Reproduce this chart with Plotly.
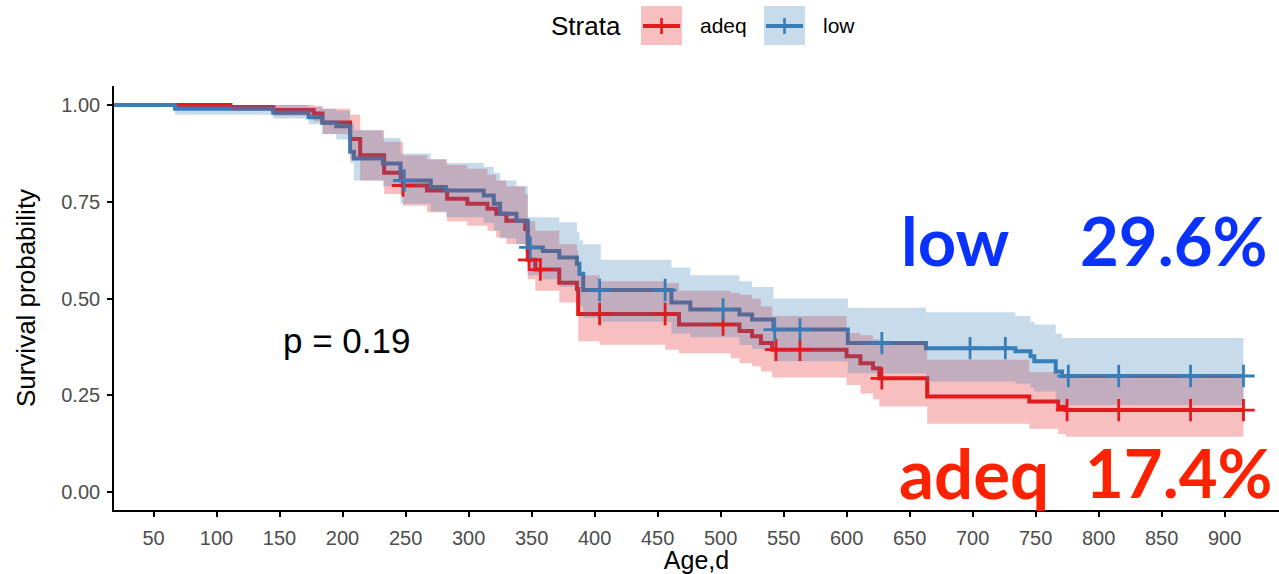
import plotly.graph_objects as go

# ---------------- data ----------------
low_time  = [0, 67, 145, 173, 184, 195, 206, 209, 232, 246, 270, 282, 312, 320, 325, 338, 347, 359, 372, 386, 388, 391, 405, 461, 476, 515, 525, 542, 601, 663, 734, 746, 749, 766, 771, 915]
low_surv  = [1.000, 0.990, 0.980, 0.968, 0.954, 0.945, 0.879, 0.862, 0.849, 0.805, 0.788, 0.779, 0.766, 0.745, 0.719, 0.701, 0.632, 0.623, 0.606, 0.590, 0.564, 0.522, 0.522, 0.490, 0.472, 0.459, 0.446, 0.420, 0.385, 0.372, 0.364, 0.351, 0.338, 0.312, 0.300, 0.300]
low_upper = [1.000, 1.000, 1.000, 0.995, 0.990, 0.985, 0.950, 0.935, 0.915, 0.875, 0.860, 0.850, 0.840, 0.825, 0.805, 0.790, 0.710, 0.710, 0.697, 0.671, 0.650, 0.640, 0.600, 0.580, 0.560, 0.545, 0.530, 0.500, 0.476, 0.465, 0.455, 0.440, 0.433, 0.409, 0.398, 0.398]
low_lower = [1.000, 0.975, 0.965, 0.950, 0.925, 0.911, 0.850, 0.805, 0.790, 0.745, 0.725, 0.710, 0.695, 0.675, 0.655, 0.640, 0.560, 0.550, 0.530, 0.510, 0.480, 0.450, 0.440, 0.410, 0.400, 0.380, 0.370, 0.338, 0.307, 0.286, 0.280, 0.270, 0.260, 0.235, 0.225, 0.225]
low_censor = [249, 349, 404, 456, 502, 543, 563, 628, 698, 726, 776, 816, 873, 915]

adeq_time  = [0, 111, 145, 177, 184, 206, 214, 233, 248, 267, 283, 299, 315, 322, 330, 345, 347, 353, 372, 386, 387, 404, 456, 467, 508, 515, 525, 532, 541, 600, 611, 621, 626, 664, 745, 768, 774, 915]
adeq_surv  = [1.000, 0.995, 0.987, 0.978, 0.955, 0.912, 0.870, 0.825, 0.792, 0.779, 0.758, 0.745, 0.732, 0.719, 0.701, 0.680, 0.600, 0.575, 0.541, 0.525, 0.460, 0.460, 0.460, 0.433, 0.433, 0.416, 0.403, 0.385, 0.368, 0.351, 0.333, 0.320, 0.294, 0.247, 0.234, 0.220, 0.212, 0.212]
adeq_upper = [1.000, 1.000, 1.000, 0.998, 0.990, 0.975, 0.935, 0.905, 0.870, 0.860, 0.845, 0.835, 0.820, 0.805, 0.790, 0.770, 0.700, 0.675, 0.640, 0.625, 0.560, 0.545, 0.540, 0.520, 0.515, 0.510, 0.500, 0.480, 0.455, 0.411, 0.405, 0.395, 0.390, 0.342, 0.310, 0.300, 0.300, 0.300]
adeq_lower = [1.000, 0.985, 0.972, 0.958, 0.925, 0.860, 0.805, 0.770, 0.740, 0.723, 0.700, 0.688, 0.675, 0.658, 0.641, 0.620, 0.550, 0.520, 0.490, 0.463, 0.390, 0.381, 0.368, 0.359, 0.346, 0.333, 0.325, 0.312, 0.296, 0.277, 0.255, 0.240, 0.221, 0.177, 0.164, 0.150, 0.143, 0.143]
adeq_censor = [248, 348, 357, 404, 456, 502, 544, 563, 628, 775, 816, 873, 915]

x_ticks = [50, 100, 150, 200, 250, 300, 350, 400, 450, 500, 550, 600, 650, 700, 750, 800, 850, 900]
y_ticks = [0.0, 0.25, 0.5, 0.75, 1.0]
y_ticktext = ["0.00", "0.25", "0.50", "0.75", "1.00"]

# ---------------- styles ----------------
RED = "#E41A1C"
BLUE = "#377EB8"
RED_FILL = "rgba(228,26,28,0.28)"
BLUE_FILL = "rgba(55,126,184,0.28)"
FONT = "Liberation Sans, Arial, sans-serif"

W, H = 1279, 574
L, R, T, B = 114, 0, 86, 64
PW, PH = W - L - R, H - T - B


def xp(px):
    return (px - L) / PW


def yp(py):
    return (H - B - py) / PH


def step_value(times, vals, t):
    v = vals[0]
    for ti, vi in zip(times, vals):
        if ti <= t:
            v = vi
    return v


groups = [
    ("adeq", adeq_time, adeq_surv, adeq_upper, adeq_lower, adeq_censor, RED, RED_FILL),
    ("low", low_time, low_surv, low_upper, low_lower, low_censor, BLUE, BLUE_FILL),
]

fig = go.Figure()

# curves (drawn first, ribbons go over them as in ggsurvplot)
for name, t, s, u, lo, c, col, fcol in groups:
    fig.add_trace(go.Scatter(x=t, y=s, mode="lines", line=dict(color=col, width=4, shape="hv"),
                             showlegend=False, hoverinfo="skip"))

# confidence ribbons
for name, t, s, u, lo, c, col, fcol in groups:
    fig.add_trace(go.Scatter(x=t, y=u, mode="lines", line=dict(width=0, shape="hv"),
                             showlegend=False, hoverinfo="skip"))
    fig.add_trace(go.Scatter(x=t, y=lo, mode="lines", line=dict(width=0, shape="hv"),
                             fill="tonexty", fillcolor=fcol, showlegend=False, hoverinfo="skip"))

# censor marks
for name, t, s, u, lo, c, col, fcol in groups:
    cy = [step_value(t, s, ci) for ci in c]
    fig.add_trace(go.Scatter(x=c, y=cy, mode="markers",
                             marker=dict(symbol="cross-thin", size=16, line=dict(color=col, width=2.8)),
                             showlegend=False, hoverinfo="skip"))

# ---------------- layout ----------------
fig.update_layout(
    width=W, height=H,
    margin=dict(l=L, r=R, t=T, b=B, pad=0),
    paper_bgcolor="white", plot_bgcolor="white",
    font=dict(family=FONT, color="black"),
    xaxis=dict(range=[18.6, 943.2], tickvals=x_ticks, showgrid=False, zeroline=False,
               showline=True, linecolor="black", linewidth=1.6, ticks="outside", ticklen=5,
               tickwidth=1.6, tickcolor="black", tickfont=dict(size=20, color="#4D4D4D"),
               ticklabelstandoff=4,
               title=dict(text="Age,d", font=dict(size=25, color="black"), standoff=1)),
    yaxis=dict(range=[-0.046, 1.049], tickvals=y_ticks, ticktext=y_ticktext, showgrid=False,
               zeroline=False, showline=True, linecolor="black", linewidth=1.6, ticks="outside",
               ticklen=5, tickwidth=1.6, tickcolor="black", tickfont=dict(size=20, color="#4D4D4D"),
               ticklabelstandoff=3,
               title=dict(text="Survival probability", font=dict(size=26, color="black"), standoff=18)),
)

shapes = []
annotations = []

# legend (manual, ggplot style with ribbon boxes)
legend_items = [("adeq", 641, RED, RED_FILL, 698), ("low", 764, BLUE, BLUE_FILL, 821)]
ly = 26
for lab, bx, col, fcol, tx in legend_items:
    shapes.append(dict(type="rect", xref="paper", yref="paper", x0=xp(bx), x1=xp(bx + 41),
                       y0=yp(45), y1=yp(6), fillcolor=fcol, line=dict(width=0), layer="above"))
    shapes.append(dict(type="line", xref="paper", yref="paper", x0=xp(bx + 2), x1=xp(bx + 39),
                       y0=yp(ly), y1=yp(ly), line=dict(color=col, width=4), layer="above"))
    shapes.append(dict(type="line", xref="paper", yref="paper", x0=xp(bx + 20.5), x1=xp(bx + 20.5),
                       y0=yp(ly - 8), y1=yp(ly + 8), line=dict(color=col, width=2.6), layer="above"))
    annotations.append(dict(text=lab, xref="paper", yref="paper", x=xp(tx), y=yp(ly),
                            xanchor="left", yanchor="middle", showarrow=False,
                            font=dict(size=21, color="black", family=FONT)))
annotations.append(dict(text="Strata", xref="paper", yref="paper", x=xp(549), y=yp(ly),
                        xanchor="left", yanchor="middle", showarrow=False,
                        font=dict(size=26, color="black", family=FONT)))

# p value
annotations.append(dict(text="p = 0.19", xref="paper", yref="paper", x=xp(346), y=yp(340),
                        xanchor="center", yanchor="middle", showarrow=False,
                        font=dict(size=35, color="black", family=FONT)))

# big labels
BIG = "Lato, Open Sans, sans-serif"
annotations += [
    dict(text="<b>low</b>", xref="paper", yref="paper", x=xp(899), y=yp(240), xanchor="left",
         yanchor="middle", showarrow=False, font=dict(size=67, color="#0A32FF", family=BIG)),
    dict(text="<b>29.6%</b>", xref="paper", yref="paper", x=xp(1269), y=yp(240), xanchor="right",
         yanchor="middle", showarrow=False, font=dict(size=67, color="#0A32FF", family=BIG)),
    dict(text="<b>adeq</b>", xref="paper", yref="paper", x=xp(897), y=yp(472), xanchor="left",
         yanchor="middle", showarrow=False, font=dict(size=69, color="#FF2200", family=BIG)),
    dict(text="<b>17.4%</b>", xref="paper", yref="paper", x=xp(1274), y=yp(472), xanchor="right",
         yanchor="middle", showarrow=False, font=dict(size=67, color="#FF2200", family=BIG)),
]

fig.update_layout(shapes=shapes, annotations=annotations)
fig.write_html("out.html")
